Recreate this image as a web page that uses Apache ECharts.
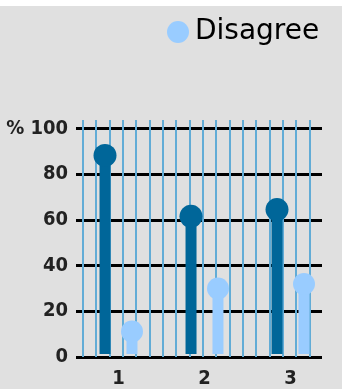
<!DOCTYPE html>
<html>
<head>
<meta charset="utf-8">
<script src="https://cdn.jsdelivr.net/npm/echarts@6/dist/echarts.min.js"></script>
<style>
  html, body { margin: 0; padding: 0; background: #ffffff; }
  #chart { position: absolute; left: 0; top: 6px; width: 342px; height: 383px; background: #e0e0e0; }
</style>
</head>
<body>
<div id="chart"></div>
<script>
// Survey answers per question
const categories = ['1', '2', '3'];
const agreeValues = [88, 61, 64];
const disagreeValues = [10, 29, 31];
const yTicks = [0, 20, 40, 60, 80, 100];
const fenceCount = 17; // spaces between the thin vertical rules

const DARK = '#006699';
const LIGHT = '#99ccff';
const RULE = '#62acd6';
const labelFont = { fontFamily: 'DejaVu Sans Condensed', fontWeight: 'bold', fontSize: 20, color: '#222222' };

const chart = echarts.init(document.getElementById('chart'), null, { renderer: 'canvas' });

chart.setOption({
  backgroundColor: '#e0e0e0',
  animation: false,
  legend: {
    data: ['Disagree'],
    left: 162, top: 7,
    icon: 'circle',
    itemWidth: 22, itemHeight: 22,
    itemGap: 5,
    selectedMode: false,
    textStyle: { fontFamily: 'DejaVu Sans', fontSize: 28, color: '#000000', padding: [0, 0, 0, 1] }
  },
  grid: [
    // thin vertical rules
    { left: 82.7, width: 226.6, top: 114, bottom: 32 },
    // horizontal value lines
    { left: 76, width: 246, top: 122.3, bottom: 32 },
    // bars
    { left: 75.5, width: 258, top: 122.3, bottom: 32 }
  ],
  xAxis: [
    { gridIndex: 0, type: 'value', min: 0, max: fenceCount, interval: 1,
      axisLine: { show: false }, axisTick: { show: false }, axisLabel: { show: false },
      splitLine: { show: true, lineStyle: { color: RULE, width: 2 } } },
    { gridIndex: 1, type: 'value', min: 0, max: 1, show: false },
    { gridIndex: 2, type: 'category', data: categories,
      axisLine: { show: false }, axisTick: { show: false },
      axisLabel: Object.assign({ margin: 15 }, labelFont) }
  ],
  yAxis: [
    { gridIndex: 0, type: 'value', min: 0, max: 1, show: false, splitLine: { show: false } },
    { gridIndex: 1, type: 'value', min: yTicks[0], max: yTicks[yTicks.length - 1], interval: 20,
      axisLine: { show: false }, axisTick: { show: false },
      axisLabel: Object.assign({ margin: 8, formatter: v => v === 100 ? '% 100' : String(v) }, labelFont),
      splitLine: { show: true, lineStyle: { color: '#000000', width: 3 } } },
    { gridIndex: 2, type: 'value', min: 0, max: 100, show: false, splitLine: { show: false } }
  ],
  series: [
    { name: 'Agree', type: 'bar', xAxisIndex: 2, yAxisIndex: 2, data: agreeValues,
      barWidth: 11, barGap: '145%', itemStyle: { color: DARK }, z: 5 },
    { name: 'Disagree', type: 'bar', xAxisIndex: 2, yAxisIndex: 2, data: disagreeValues,
      barWidth: 11, itemStyle: { color: LIGHT }, z: 5 },
    { name: 'Agree', type: 'scatter', xAxisIndex: 2, yAxisIndex: 2, data: agreeValues,
      symbol: 'circle', symbolSize: 23, symbolOffset: [-13.5, 0], itemStyle: { color: DARK, opacity: 1 }, z: 6 },
    { name: 'Disagree', type: 'scatter', xAxisIndex: 2, yAxisIndex: 2, data: disagreeValues,
      symbol: 'circle', symbolSize: 22, symbolOffset: [13.5, 0], itemStyle: { color: LIGHT, opacity: 1 }, z: 6 }
  ]
});
</script>
</body>
</html>
